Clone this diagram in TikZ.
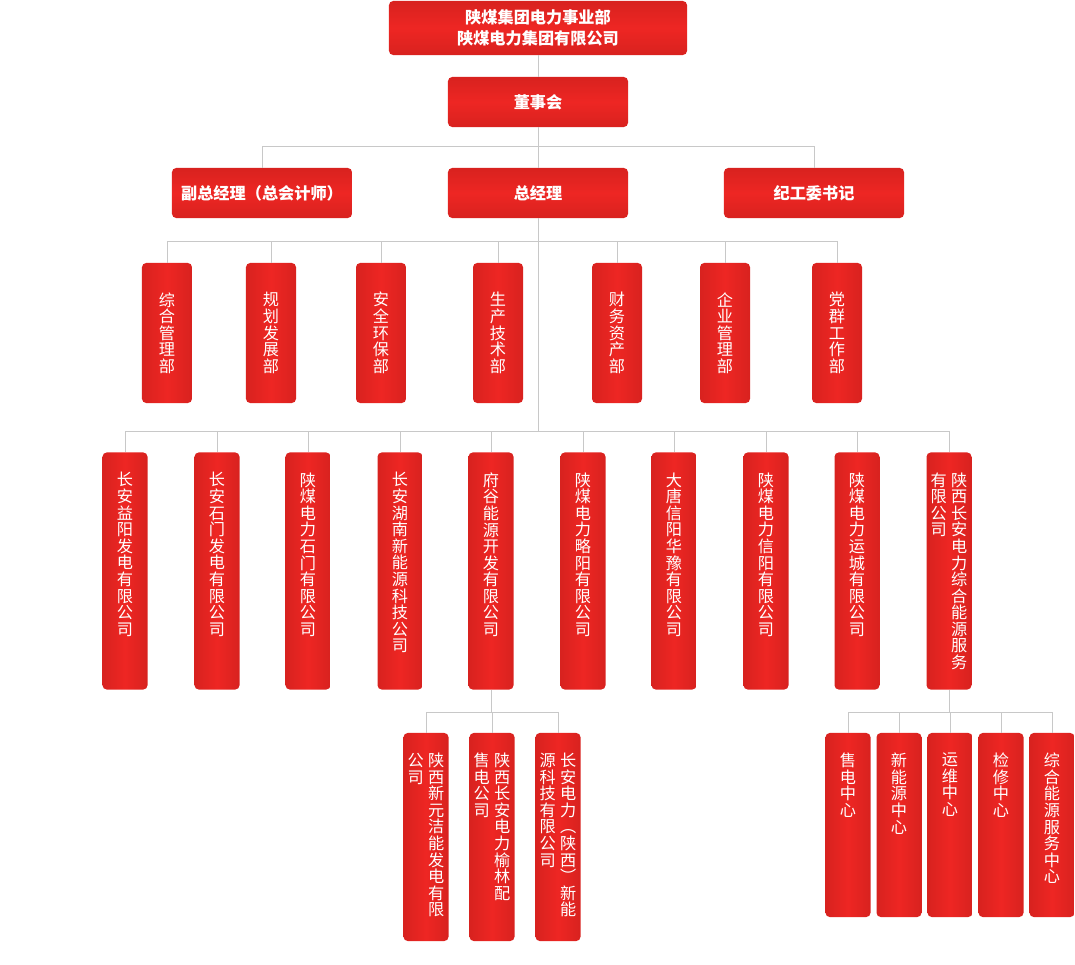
\documentclass[tikz,border=0pt]{standalone}
\usepackage{fontspec}
\setmainfont{Noto Sans CJK SC}
\usetikzlibrary{positioning}
\definecolor{RedDark}{HTML}{D8221F}
\definecolor{RedLight}{HTML}{EE2623}
\definecolor{Wire}{HTML}{C8C8C8}
\newcommand\vfont{\fontsize{11.5}{11.8}\selectfont}
\def\vcharsgo#1#2\vcharsend{#1\ifx\relax#2\relax\expandafter\vcharsdrop\else\expandafter\vcharskeep\fi{\\\vcharsgo#2\vcharsend}}
\def\vcharsdrop#1{}
\def\vcharskeep#1{#1}
\newcommand\vcol[1]{\parbox[t]{1em}{\centering\lineskiplimit=-\maxdimen\expandafter\vcharsgo#1\vcharsend}}
\tikzset{hbox/.style={rounded corners=3pt,top color=RedDark,bottom color=RedDark,middle color=RedLight,text=white,font=\bfseries\fontsize{11.5}{15}\selectfont,align=center,minimum width=4.5cm,minimum height=1.25cm,inner sep=0pt},vbox/.style={rounded corners=3pt,left color=RedDark,right color=RedDark,middle color=RedLight,minimum width=1.125cm,inner sep=0pt},dept/.style={vbox,minimum width=1.25cm,minimum height=3.5cm,text=white,font=\vfont},corp/.style={vbox,minimum height=5.925cm},vtxt/.style={text=white,font=\vfont,inner sep=0pt},link/.style={draw=Wire,line width=0.7pt}}

\begin{document}
\begin{tikzpicture}[x=0.025cm,y=-0.025cm]
  \useasboundingbox (0,0) rectangle (1075,964);
  \node[hbox,minimum width=7.45cm,minimum height=1.35cm](group) at (538,28){陕煤集团电力事业部\\陕煤电力集团有限公司};
  \node[hbox](board) at (538,102){董事会};
  \node[hbox](vgm) at (262,193){副总经理（总会计师）};
  \node[hbox](gm) at (538,193){总经理};
  \node[hbox](disc) at (814,193){纪工委书记};
  \foreach \i/\x/\t in {1/167/综合管理部,2/271/规划发展部,3/381/安全环保部,4/498/生产技术部,5/617/财务资产部,6/725/企业管理部,7/837/党群工作部}
    \node[dept](d\i) at (\x,333){\vcol{\t}};
  \foreach \i/\x/\t in {1/125/长安益阳发电有限公司,2/217/长安石门发电有限公司,3/308/陕煤电力石门有限公司,4/400/长安湖南新能源科技公司,5/491/府谷能源开发有限公司,6/583/陕煤电力略阳有限公司,7/674/大唐信阳华豫有限公司,8/766/陕煤电力信阳有限公司,9/857/陕煤电力运城有限公司}{
    \node[corp](c\i) at (\x,571){};
    \node[vtxt,below=0.5cm of c\i.north](lc\i){\vcol{\t}};}
  \node[corp](c10) at (949,571){};
  \node[vtxt,below=0.5cm of c10.north](lc10){\vcol{有限公司}\hspace{3pt}\vcol{陕西长安电力综合能源服务}};
  % under fugu
  \node[corp,minimum height=5.2cm](f1) at (426,837){};
  \node[vtxt,below=0.5cm of f1.north](lf1){\vcol{公司}\hspace{3pt}\vcol{陕西新元洁能发电有限}};
  \node[corp,minimum height=5.2cm](f2) at (492,837){};
  \node[vtxt,below=0.5cm of f2.north](lf2){\vcol{售电公司}\hspace{3pt}\vcol{陕西长安电力榆林配}};
  \node[corp,minimum height=5.2cm](f3) at (558,837){};
  \node[vtxt,below=0.5cm of f3.north](lf3){\vcol{源科技有限公司}\hspace{3pt}\vcol{长安电力︵陕西︶新能}};
  % centres
  \foreach \i/\x/\t in {1/848/售电中心,2/899/新能源中心,3/950/运维中心,4/1001/检修中心,5/1052/综合能源服务中心}{
    \node[corp,minimum height=4.6cm](s\i) at (\x,825){};
    \node[vtxt,below=0.5cm of s\i.north](ls\i){\vcol{\t}};}
  \draw[link](group)--(board);\draw[link](board)--(gm);
  \coordinate(bus1) at (538,146);\coordinate(bus2) at (538,241);\coordinate(bus3) at (538,431);
  \coordinate(bus4) at (491,712);\coordinate(bus5) at (949,712);
  \foreach \n in {vgm,disc}\draw[link](bus1)-|(\n.north);
  \draw[link](gm)--(bus3);
  \foreach \i in {1,...,7}\draw[link](bus2)-|(d\i.north);
  \foreach \i in {1,...,10}\draw[link](bus3)-|(c\i.north);
  \draw[link](c5)--(bus4);\foreach \i in {1,2,3}\draw[link](bus4)-|(f\i.north);
  \draw[link](c10)--(bus5);\foreach \i in {1,...,5}\draw[link](bus5)-|(s\i.north);
\end{tikzpicture}
\end{document}
